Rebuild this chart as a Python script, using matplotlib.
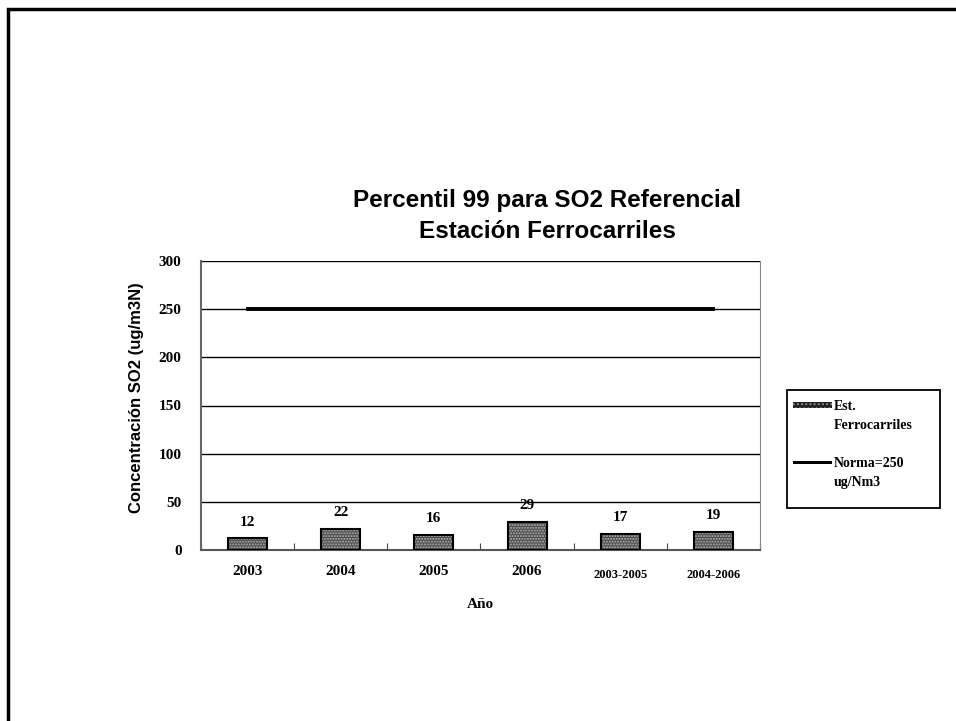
import matplotlib
matplotlib.use("Agg")
import matplotlib.pyplot as plt
from matplotlib.patches import Rectangle
from matplotlib.legend_handler import HandlerPatch
import numpy as np

categories = ["2003", "2004", "2005", "2006", "2003-2005", "2004-2006"]
values = [12, 22, 16, 29, 17, 19]
norma = [250, 250, 250, 250, 250, 250]
yticks = [0, 50, 100, 150, 200, 250, 300]

W, H = 956, 721
fig = plt.figure(figsize=(W / 100, H / 100), dpi=100)
plt.rcParams["hatch.linewidth"] = 1.0

# outer frame
fig.patches.append(Rectangle((8 / W, -0.1), 1.2, 1 - 9 / H + 0.1, transform=fig.transFigure,
                             fill=False, edgecolor="black", linewidth=2.5))

ax_l, ax_r, ax_t, ax_b = 201, 760, 261, 550
ax = fig.add_axes([ax_l / W, 1 - ax_b / H, (ax_r - ax_l) / W, (ax_b - ax_t) / H])

x = np.arange(len(categories))
bar_fc = "#4a4a4a"
bar_hatch_c = "#b5b5b5"
ax.bar(x, values, width=0.42, facecolor=bar_fc, edgecolor=bar_hatch_c,
       hatch="......", linewidth=0, zorder=3)
ax.bar(x, values, width=0.42, fill=False, edgecolor="black", linewidth=1.5, zorder=3.5)
ax.plot(x, norma, color="black", linewidth=2.8, zorder=4)

serif = "Liberation Serif"
for xi, v in zip(x, values):
    ax.text(xi, v + 10, str(v), ha="center", va="bottom", fontsize=11, fontweight="bold",
            family=serif)

ax.set_xlim(-0.5, len(categories) - 0.5)
ax.set_ylim(0, 300)
ax.set_yticks(yticks)
ax.set_yticklabels([str(t) for t in yticks], fontsize=11, fontweight="bold", family=serif)
ax.set_xticks(np.arange(len(categories) + 1) - 0.5)
ax.set_xticklabels([])
ax.tick_params(axis="x", length=5, direction="in", color="#444")
ax.tick_params(axis="y", length=0, pad=14)
for xi, c in zip(x, categories):
    fs = 11 if len(c) == 4 else 9
    ax.text(xi, -0.075 if len(c) == 4 else -0.085, c, transform=ax.get_xaxis_transform(),
            ha="center", va="center", fontsize=fs, fontweight="bold", family=serif)

ax.grid(axis="y", color="black", linewidth=1.0, zorder=0)
ax.spines["top"].set_visible(False)
ax.spines["right"].set_color("#888")
ax.spines["left"].set_color("#666")
ax.spines["left"].set_linewidth(1.5)
ax.spines["bottom"].set_color("#555")
ax.spines["bottom"].set_linewidth(1.5)

ax.set_ylabel("Concentración SO2 (ug/m3N)", fontsize=12, fontweight="bold",
              family="Liberation Sans")
ax.yaxis.set_label_coords((144 - ax_l) / (ax_r - ax_l), 0.528)
ax.set_xlabel("Año", fontsize=11, fontweight="bold", family=serif)
ax.xaxis.set_label_coords(0.5, -(598 - ax_b) / (ax_b - ax_t))

fig.text(547 / W, 1 - 200 / H, "Percentil 99 para SO2 Referencial", ha="center", va="center",
         fontsize=17.5, fontweight="bold", family="Liberation Sans")
fig.text(547 / W, 1 - 231 / H, "Estación Ferrocarriles", ha="center", va="center",
         fontsize=17.5, fontweight="bold", family="Liberation Sans")

# legend frame
lx0, ly0, lx1, ly1 = 787, 390, 940, 508
fig.patches.append(Rectangle((lx0 / W, 1 - ly1 / H), (lx1 - lx0) / W, (ly1 - ly0) / H,
                             transform=fig.transFigure, fill=False, edgecolor="black",
                             linewidth=1.3))

LEG_FS = 10
LSP = 1.6
LINE_PT = LEG_FS * LSP


def bar_handle(legend, orig_handle, xdescent, ydescent, width, height, fontsize):
    h = 4.5
    yc = height / 2 + LINE_PT / 2
    return Rectangle((-xdescent, -ydescent + yc - h / 2), width, h)


def line_handle(legend, orig_handle, xdescent, ydescent, width, height, fontsize):
    h = 2.2
    yc = height / 2 + LINE_PT / 2
    return Rectangle((-xdescent, -ydescent + yc - h / 2), width, h)


h_bar = Rectangle((0, 0), 1, 1, facecolor="#202020", edgecolor="#8a8a8a", hatch="....",
                  linewidth=0)
h_line = Rectangle((0, 0), 1, 1, facecolor="black", edgecolor="black", linewidth=0)
labels = ["Est.\nFerrocarriles", "Norma=250\nug/Nm3"]
leg = fig.legend([h_bar, h_line], labels, loc="upper left",
                 bbox_to_anchor=(793 / W, 1 - 400 / H), bbox_transform=fig.transFigure,
                 prop={"family": serif, "weight": "bold", "size": LEG_FS},
                 frameon=False, labelspacing=1.8,
                 handlelength=2.8, handletextpad=0.15, borderpad=0, borderaxespad=0,
                 handler_map={h_bar: HandlerPatch(patch_func=bar_handle),
                              h_line: HandlerPatch(patch_func=line_handle)})
for t in leg.get_texts():
    t.set_linespacing(LSP)

fig.savefig("out.png", dpi=100, facecolor="white")
